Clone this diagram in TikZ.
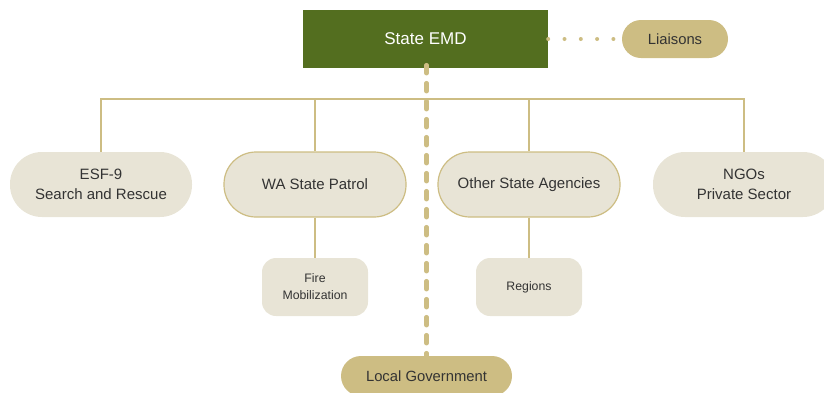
\documentclass[tikz,border=0pt]{standalone}
\usepackage{fontspec}
\setmainfont{Liberation Sans}
\definecolor{emdgreen}{HTML}{536E1F}
\definecolor{gold}{HTML}{CDBD83}
\definecolor{sand}{HTML}{E8E4D6}
\definecolor{ink}{HTML}{333333}
\begin{document}
\begin{tikzpicture}[x=1pt,y=-1pt,
  every node/.style={inner sep=0pt,align=center,text=ink},
  agency/.style={fill=sand,minimum width=182pt,minimum height=65pt,rounded corners=32pt,font=\fontsize{15}{20}\selectfont},
  unit/.style={fill=sand,minimum width=106pt,minimum height=58pt,rounded corners=14pt,font=\fontsize{12.3}{17}\selectfont},
  pill/.style={fill=gold,minimum height=38pt,rounded corners=19pt,font=\fontsize{14.8}{18}\selectfont},
  link/.style={draw=gold,line width=1.6pt}]
\useasboundingbox (0,0) rectangle (824,392);
% top of the chart
\node [fill=emdgreen,minimum width=245pt,minimum height=58pt,text=white,font=\fontsize{17}{20}\selectfont] (emd) at (425.5,39) {State EMD};
\node [pill,minimum width=106pt] (liaisons) at (675,39) {Liaisons};
\node [pill,minimum width=171pt,minimum height=40pt,rounded corners=20pt] (local) at (426.5,376) {Local Government};
% agencies
\node [agency] (esf) at (101,184.5) {ESF-9\\Search and Rescue};
\node [agency,draw=gold,line width=1.2pt] (wsp) at (315,184.5) {WA State Patrol};
\node [agency,draw=gold,line width=1.2pt] (osa) at (529,184.5) {Other State Agencies};
\node [agency] (ngo) at (744,184.5) {NGOs\\Private Sector};
\node [unit] (fire) at (315,287) {Fire\\Mobilization};
\node [unit] (regions) at (529,287) {Regions};
\coordinate (bus) at (0,99);
% connectors
\draw [link] (esf.north) |- (bus -| ngo.north) -- (ngo.north);
\draw [link] (wsp.north) -- (wsp.north |- bus);
\draw [link] (osa.north) -- (osa.north |- bus);
\draw [link] (wsp.south) -- (fire.north);
\draw [link] (osa.south) -- (regions.north);
\draw [draw=gold,line width=4.5pt,line cap=round,dash pattern=on 8pt off 10pt] ([yshift=3pt]emd.south -| local.north) -- ([yshift=-6pt]local.north);
\draw [draw=gold,line width=4pt,line cap=round,dash pattern=on 0pt off 16.3pt] (emd.east) -- (liaisons.west);
\end{tikzpicture}
\end{document}
